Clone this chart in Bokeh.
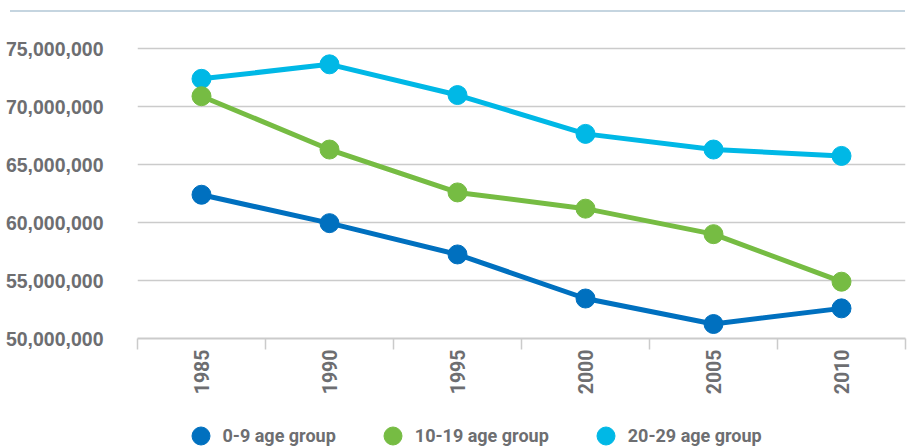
import math

from bokeh.embed import file_html
from bokeh.layouts import column
from bokeh.models import (Div, FixedTicker, Legend, LegendItem,
                          NumeralTickFormatter, Range1d)
from bokeh.plotting import figure
from bokeh.resources import INLINE

# Population by age group, 1985-2010
years = [1985, 1990, 1995, 2000, 2005, 2010]
age_0_9 = [62.4e6, 59.95e6, 57.25e6, 53.45e6, 51.25e6, 52.6e6]
age_10_19 = [70.9e6, 66.3e6, 62.6e6, 61.2e6, 59.0e6, 54.9e6]
age_20_29 = [72.4e6, 73.65e6, 71.0e6, 67.65e6, 66.3e6, 65.75e6]
y_ticks = [50e6, 55e6, 60e6, 65e6, 70e6, 75e6]
series_labels = ["0-9 age group", "10-19 age group", "20-29 age group"]

BLUE = "#0070bf"
GREEN = "#76bc43"
CYAN = "#00b8e6"
TEXT = "#6d6e71"
RULE = "#cbcbcb"
LABEL_FONT = "Roboto"

half = (years[1] - years[0]) / 2
bounds = [y - half for y in years] + [years[-1] + half]

p = figure(
    width=912, height=400,
    x_range=Range1d(bounds[0], bounds[-1]),
    y_range=Range1d(50e6, 77.43e6),
    output_backend="svg", toolbar_location=None,
    min_border_left=137, min_border_right=7,
    min_border_top=8, min_border_bottom=74,
)
p.outline_line_color = None
p.xgrid.grid_line_color = None
p.ygrid.grid_line_color = RULE
p.ygrid.grid_line_width = 1.5

# y axis: labels only
p.yaxis.ticker = FixedTicker(ticks=y_ticks)
p.yaxis.formatter = NumeralTickFormatter(format="0,0")
p.yaxis.axis_line_color = None
p.yaxis.major_tick_line_color = None
p.yaxis.minor_tick_line_color = None
p.yaxis.major_label_standoff = 28
p.yaxis.major_label_text_font = "Liberation Sans"
p.yaxis.major_label_text_font_style = "bold"
p.yaxis.major_label_text_font_size = "19.5px"
p.yaxis.major_label_text_color = TEXT

# x axis: year labels centred, tick marks between the years
p.xaxis.ticker = FixedTicker(ticks=years, minor_ticks=bounds)
p.xaxis.axis_line_color = RULE
p.xaxis.axis_line_width = 2
p.xaxis.major_tick_line_color = None
p.xaxis.major_tick_out = 0
p.xaxis.major_tick_in = 0
p.xaxis.minor_tick_line_color = RULE
p.xaxis.minor_tick_line_width = 1.5
p.xaxis.minor_tick_out = 11
p.xaxis.minor_tick_in = 0
p.xaxis.major_label_orientation = math.pi / 2
p.xaxis.major_label_standoff = 0
p.xaxis.major_label_text_font = LABEL_FONT
p.xaxis.major_label_text_font_style = "bold"
p.xaxis.major_label_text_font_size = "19.5px"
p.xaxis.major_label_text_color = TEXT

series = [
    (series_labels[2], age_20_29, CYAN),
    (series_labels[1], age_10_19, GREEN),
    (series_labels[0], age_0_9, BLUE),
]
for label, values, color in series:
    p.line(years, values, line_color=color, line_width=5)
    p.scatter(years, values, size=19, fill_color=color, line_color=color)

# legend strip under the chart; its frame lines up with the chart frame,
# and the key markers sit outside its (empty) ranges so only the legend shows
key = figure(
    width=912, height=35,
    x_range=Range1d(0, 1), y_range=Range1d(0, 1),
    x_axis_type=None, y_axis_type=None,
    output_backend="svg", toolbar_location=None,
    min_border_left=137, min_border_right=7, min_border_top=0, min_border_bottom=0,
)
key.outline_line_color = None
key.grid.grid_line_color = None

items = []
for label, values, color in series[::-1]:
    r = key.scatter(years, values, size=19, fill_color=color, line_color=color)
    items.append(LegendItem(label=label, renderers=[r]))

legend = Legend(
    items=items,
    orientation="horizontal",
    location=(40.5, -11.2),
    glyph_width=45, glyph_height=45,
    label_standoff=0, spacing=34, padding=0, margin=0,
    border_line_color=None, background_fill_alpha=0,
    label_text_font=LABEL_FONT, label_text_font_style="bold",
    label_text_font_size="18px", label_text_color=TEXT,
)
key.add_layout(legend)

top_rule = Div(text="", width=895, height=2, margin=(10, 0, 0, 10),
               styles={"background-color": "#c5d5e0"})

layout = column(top_rule, p, key, spacing=0)
open("out.html", "w").write(file_html(layout, INLINE))
